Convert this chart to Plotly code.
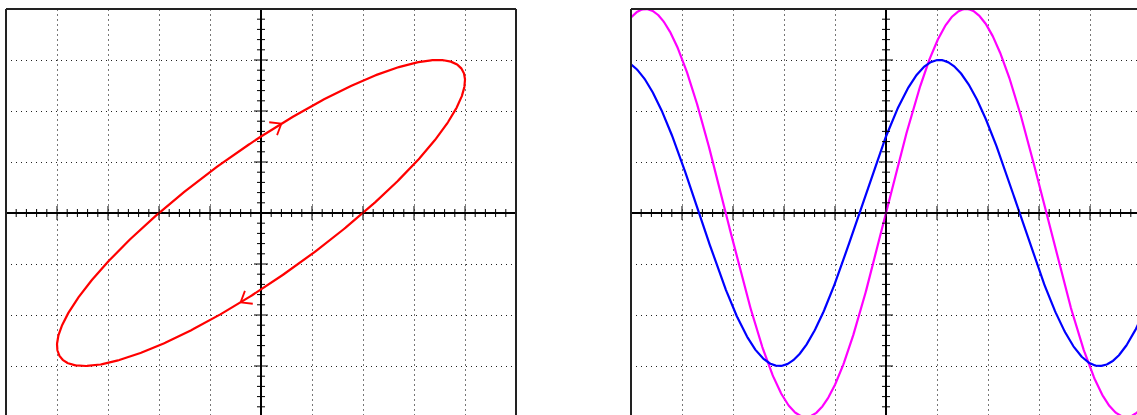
import numpy as np
import plotly.graph_objects as go

# ---- data ----
channel_names = ["CH1", "CH2"]
amplitudes_div = [4.0, 3.0]          # peak amplitude in divisions
phase_deg = [0.0, 30.0]              # phase of each channel
channel_colors = ["#ff00ff", "#0000ff"]
xy_color = "#ff0000"
arrow_phase = [0.10, np.pi + 0.10]   # where the direction arrows sit on the XY trace
grid_x_div = [-5, -4, -3, -2, -1, 0, 1, 2, 3, 4, 5]
grid_y_div = [-4, -3, -2, -1, 0, 1, 2, 3, 4]

W, H = 1137, 415
PX = 51.0  # pixels per division
left_px = (6, 516)
right_px = (631, 1137)
top_px, axis_px = 9, 213

t_xy = np.linspace(0, 2 * np.pi, 721)
t_time = np.linspace(-5, 5, 801)

def channel(i, t):
    return amplitudes_div[i] * np.sin(t + np.deg2rad(phase_deg[i]))

fig = go.Figure()

# XY mode (Lissajous)
fig.add_trace(go.Scatter(x=channel(0, t_xy), y=channel(1, t_xy), mode="lines",
                         line=dict(color=xy_color, width=2.2), hoverinfo="skip",
                         xaxis="x", yaxis="y", showlegend=False))
# direction chevrons
for tp in arrow_phase:
    tx, ty = channel(0, tp), channel(1, tp)
    dx = amplitudes_div[0] * np.cos(tp)
    dy = amplitudes_div[1] * np.cos(tp + np.deg2rad(phase_deg[1]))
    ang = np.arctan2(dy, dx)
    L = 0.24
    xs, ys = [], []
    for s in (+1, -1):
        a = ang + np.pi + s * np.deg2rad(38)
        xs += [tx + L * np.cos(a), tx, None]
        ys += [ty + L * np.sin(a), ty, None]
    fig.add_trace(go.Scatter(x=xs, y=ys, mode="lines", line=dict(color=xy_color, width=1.8),
                             hoverinfo="skip", xaxis="x", yaxis="y", showlegend=False))

# Y-T mode
for i in range(2):
    fig.add_trace(go.Scatter(x=t_time, y=channel(i, t_time), mode="lines", name=channel_names[i],
                             line=dict(color=channel_colors[i], width=2.2), hoverinfo="skip",
                             xaxis="x2", yaxis="y2", showlegend=False))

# graticule tick marks on the centre axes
def ticks(xa, ya, xmin, xmax, ymin, ymax):
    xs, ys = [], []
    minor, major = 4 / PX, 7 / PX
    for k in range(int(round(xmin * 5)), int(round(xmax * 5)) + 1):
        v = k / 5
        h = major if k % 5 == 0 else minor
        xs += [v, v, None]; ys += [-h, h, None]
    for k in range(int(round(ymin * 5)), int(round(ymax * 5)) + 1):
        v = k / 5
        h = major if k % 5 == 0 else minor
        xs += [-h, h, None]; ys += [v, v, None]
    fig.add_trace(go.Scatter(x=xs, y=ys, mode="lines", line=dict(color="#000", width=1),
                             hoverinfo="skip", xaxis=xa, yaxis=ya, showlegend=False))

ybot = -(H - axis_px) / PX
ticks("x", "y", -5, 5, -4, 4)
ticks("x2", "y2", -5, 5, -4, 4)

ydom = [0, (H - top_px) / H]
common_x = dict(showgrid=True, gridcolor="#777", griddash="2px,3px", gridwidth=1,
                tickvals=grid_x_div, showticklabels=False, ticks="",
                zeroline=True, zerolinecolor="#000", zerolinewidth=1.5, showline=False)
common_y = dict(showgrid=True, gridcolor="#222", griddash="1px,4px", gridwidth=1,
                tickvals=grid_y_div, showticklabels=False, ticks="",
                zeroline=True, zerolinecolor="#000", zerolinewidth=1.5, showline=False,
                range=[ybot, 4], domain=ydom)

fig.update_layout(
    width=W, height=H, margin=dict(l=0, r=0, t=0, b=0),
    plot_bgcolor="white", paper_bgcolor="white",
    xaxis=dict(domain=[left_px[0] / W, left_px[1] / W], range=[-5, 5], **common_x),
    yaxis=dict(anchor="x", **common_y),
    xaxis2=dict(domain=[right_px[0] / W, 1], range=[-5, (right_px[1] - 886) / PX], anchor="y2", **common_x),
    yaxis2=dict(anchor="x2", **common_y),
)

# frames
fc = dict(color="#222", width=2)
ytop = ydom[1]
for x0 in (left_px[0], left_px[1], right_px[0]):
    fig.add_shape(type="line", xref="paper", yref="paper", x0=x0 / W, x1=x0 / W, y0=0, y1=ytop, line=fc)
fig.add_shape(type="line", xref="paper", yref="paper", x0=left_px[0] / W, x1=left_px[1] / W, y0=ytop, y1=ytop, line=fc)
fig.add_shape(type="line", xref="paper", yref="paper", x0=right_px[0] / W, x1=1, y0=ytop, y1=ytop, line=fc)

fig.write_html("out.html", config={"displayModeBar": False},
               post_script="document.body.style.margin='0';document.body.style.overflow='hidden';")
